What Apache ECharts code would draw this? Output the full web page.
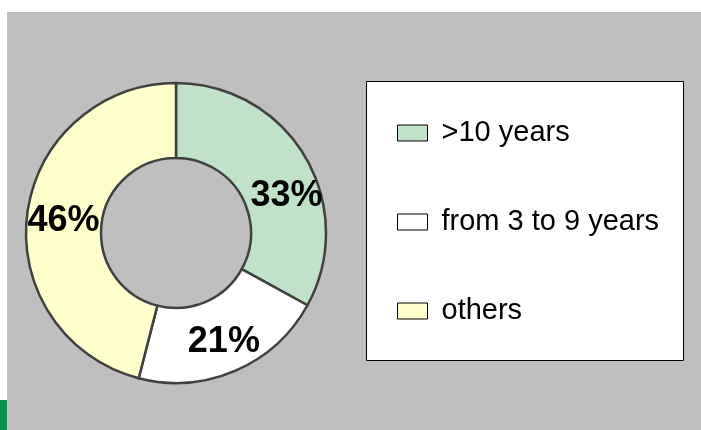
<!DOCTYPE html>
<html>
<head>
<meta charset="utf-8">
<script src="https://cdn.jsdelivr.net/npm/echarts@6/dist/echarts.min.js"></script>
<style>
  html, body { margin: 0; padding: 0; background: #fff; }
  #chart { width: 701px; height: 430px; }
</style>
</head>
<body>
<div id="chart"></div>
<script>
  // dados do gráfico
  const categorias = ['>10 years', 'from 3 to 9 years', 'others'];
  const valores = [33, 21, 46];
  const cores = ['#bfe2c9', '#ffffff', '#ffffcc'];

  const chart = echarts.init(document.getElementById('chart'));

  const seriesData = categorias.map((nome, i) => ({
    name: nome,
    value: valores[i],
    itemStyle: { color: cores[i] }
  }));
  // rótulo do primeiro setor fica um pouco mais para fora no original
  seriesData[0].label = { offset: [11, 22] };

  chart.setOption({
    backgroundColor: '#ffffff',
    animation: false,
    graphic: [
      { type: 'rect', z: -10, shape: { x: 7, y: 12, width: 694, height: 418 }, style: { fill: '#bfbfbf' } },
      { type: 'rect', z: -10, shape: { x: 0, y: 400, width: 7, height: 30 }, style: { fill: '#009444' } },
      { type: 'rect', z: -5, shape: { x: 366.5, y: 81.5, width: 317, height: 279 }, style: { fill: '#ffffff', stroke: '#000000', lineWidth: 1 } }
    ],
    legend: {
      orient: 'vertical',
      left: 397,
      top: 117,
      padding: 0,
      itemWidth: 30,
      itemHeight: 16,
      itemGap: 57,
      selectedMode: false,
      icon: 'rect',
      itemStyle: { borderColor: '#000000', borderWidth: 1 },
      textStyle: { fontFamily: 'Liberation Sans', fontSize: 29, color: '#000', lineHeight: 32, padding: [0, 0, 0, 9] },
      data: categorias
    },
    series: [{
      type: 'pie',
      center: [176, 233],
      radius: [75, 150],
      startAngle: 90,
      clockwise: true,
      itemStyle: { borderColor: '#404040', borderWidth: 2.5 },
      label: {
        show: true,
        position: 'inside',
        formatter: '{c}%',
        offset: [2, 3],
        fontFamily: 'Liberation Sans',
        fontWeight: 'bold',
        fontSize: 36,
        color: '#000'
      },
      labelLine: { show: false },
      emphasis: { disabled: true },
      data: seriesData
    }]
  });
</script>
</body>
</html>
